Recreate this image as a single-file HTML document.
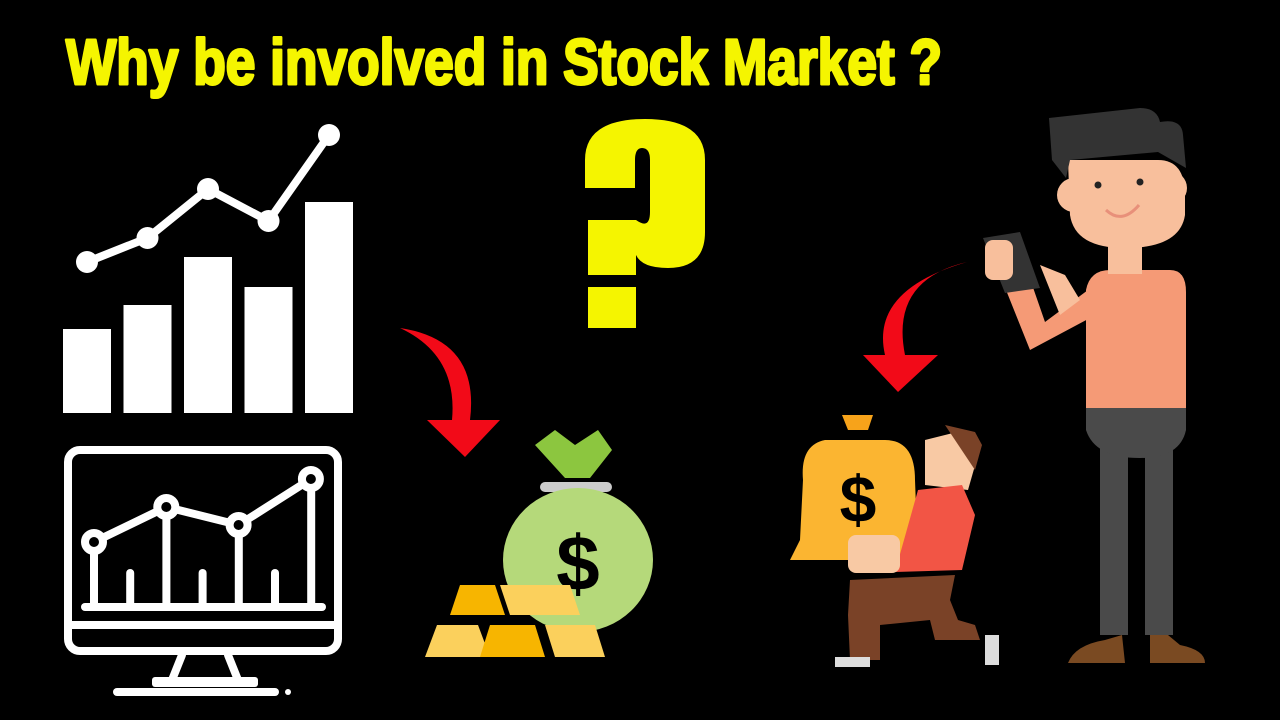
<!DOCTYPE html>
<html><head><meta charset="utf-8"><style>
html,body{margin:0;padding:0;background:#000;width:1280px;height:720px;overflow:hidden}
svg{display:block}
.title{font-family:"Liberation Sans Narrow","Liberation Sans",sans-serif;font-weight:bold;font-size:64px;fill:#f5f500;stroke:#f5f500;stroke-width:3;stroke-linejoin:round}
</style></head><body>
<svg id="s" width="1280" height="720" viewBox="0 0 1280 720">
<rect width="1280" height="720" fill="#000"/>
<text class="title" x="66" y="84" textLength="876" lengthAdjust="spacingAndGlyphs">Why be involved in Stock Market ?</text>

<g id="barchart"></g>

<g fill="none" stroke="#fff" stroke-width="8" stroke-linecap="round">
<rect x="68" y="450" width="270" height="201" rx="12"/>
<line x1="70" y1="625" x2="336" y2="625"/>
<line x1="85" y1="607" x2="322" y2="607"/>
<g id="monlines"></g>
<rect x="172" y="655" width="66" height="26" fill="#000" stroke="none"/>
<line x1="182" y1="655" x2="172" y2="680"/><line x1="228" y1="655" x2="238" y2="680"/>
<rect x="152" y="677" width="106" height="10" rx="3" fill="#fff" stroke="none"/>
<line x1="117" y1="692" x2="275" y2="692"/>
<circle cx="288" cy="692" r="3" fill="#fff" stroke="none"/>
</g>

<g fill="#f5f500">
<path d="M585 188 V160 Q585 119 645 119 Q705 119 705 160 V232 Q705 268 668 268 Q642 268 636 255 V275 H588 V220 H636 Q650 230 650 212 V160 Q650 148 642 148 Q635 148 635 160 V188 Z"/>
<rect x="588" y="287" width="48" height="41"/>
</g>

<g fill="#f20a18">
<path d="M400 328 Q480 340 470 420 L500 420 L465 457 L427 420 L452 420 Q458 355 400 328 Z"/>
</g>
<g fill="#f20a18">
<path d="M967 262 Q890 280 905 355 L938 355 L898 392 L863 355 L885 355 Q870 290 967 262 Z"/>
</g>

<g>
<path d="M535 445 L555 430 L575 445 L598 430 L612 450 L590 478 L565 478 Z" fill="#8cc63f"/>
<rect x="540" y="482" width="72" height="10" rx="5" fill="#ccc"/>
<ellipse cx="578" cy="560" rx="75" ry="72" fill="#b5d97a"/>
<text x="578" y="590" font-family="Liberation Sans,sans-serif" font-weight="bold" font-size="78" fill="#000" text-anchor="middle">$</text>
<polygon points="460,585 495,585 505,615 450,615" fill="#f7b500"/>
<polygon points="500,585 570,585 580,615 510,615" fill="#fbd05c"/>
<polygon points="437,625 478,625 490,657 425,657" fill="#fbd05c"/>
<polygon points="490,625 535,625 545,657 480,657" fill="#f7b500"/>
<polygon points="545,625 595,625 605,657 555,657" fill="#fbd05c"/>
</g>

<g>
<path d="M842 415 L873 415 L868 430 L848 430 Z" fill="#f7a31a"/>
<path d="M825 440 Q800 445 803 480 L800 540 L790 560 L918 560 L915 480 Q915 440 885 440 Z" fill="#fbb531"/>
<text x="858" y="522" font-family="Liberation Sans,sans-serif" font-weight="bold" font-size="66" fill="#000" text-anchor="middle">$</text>
<path d="M925 440 L965 430 L978 455 L968 490 L925 485 Z" fill="#f8c9a4"/>
<path d="M945 425 L975 432 L982 445 L975 470 Z" fill="#7a4227"/>
<path d="M918 490 L962 485 L975 515 L962 570 L895 572 Z" fill="#f25545"/>
<rect x="848" y="535" width="52" height="38" rx="8" fill="#f8c9a4"/>
<path d="M850 580 L955 575 L950 600 L958 620 L975 625 L980 640 L935 640 L930 620 L880 625 L880 660 L850 660 L848 615 Z" fill="#7a4227"/>
<rect x="985" y="635" width="14" height="30" fill="#ddd"/>
<rect x="835" y="657" width="35" height="10" fill="#ddd"/>
</g>

<g>
<rect x="1100" y="440" width="28" height="195" fill="#4a4a4a"/>
<rect x="1145" y="440" width="28" height="195" fill="#4a4a4a"/>
<path d="M1086 408 H1186 V430 Q1180 458 1140 458 Q1095 458 1086 430 Z" fill="#4a4a4a"/>
<path d="M1068 663 Q1075 645 1105 640 L1122 635 L1125 663 Z" fill="#7a4a22"/>
<path d="M1150 635 L1168 635 L1180 645 Q1205 650 1205 663 L1150 663 Z" fill="#7a4a22"/>
<path d="M1086 290 Q1090 270 1110 270 H1170 Q1186 270 1186 292 V408 H1086 Z" fill="#f59a76"/>
<path d="M990 250 L1030 350 L1090 318 L1088 290 L1045 322 L1020 250 Z" fill="#f59a76"/>
<rect x="1108" y="238" width="34" height="36" fill="#f8bf9c"/>
<circle cx="1074" cy="195" r="17" fill="#f8bf9c"/>
<circle cx="1170" cy="188" r="17" fill="#f8bf9c"/>
<path d="M1068 160 H1158 Q1185 160 1185 195 V215 Q1180 248 1125 248 Q1075 248 1070 215 Z" fill="#f8bf9c"/>
<path d="M1049 118 L1140 108 Q1157 108 1160 122 Q1182 118 1183 135 L1186 168 L1158 152 L1070 160 L1066 178 L1052 160 Z" fill="#333"/>
<circle cx="1098" cy="185" r="3.5" fill="#222"/><circle cx="1140" cy="182" r="3.5" fill="#222"/>
<path d="M1106 210 Q1122 225 1139 205" fill="none" stroke="#e8907a" stroke-width="3"/>
<path d="M983 238 L1020 232 L1040 288 L1005 293 Z" fill="#333"/>
<rect x="985" y="240" width="28" height="40" rx="8" fill="#f8bf9c"/>
<path d="M1040 265 L1065 275 L1080 300 L1060 315 Z" fill="#f8bf9c"/>
</g>

<script>
const barValues=[84,108,156,126,211];
const lineValues=[151,175,224,192,278];
const monPoints=[65,100,82,128];
const monStems=[34,0,32,0,34,0,42];
const g=document.getElementById('barchart');
const NS='http://www.w3.org/2000/svg';
const bx=i=>63+i*60.5, base=413;
barValues.forEach((v,i)=>{const r=document.createElementNS(NS,'rect');
r.setAttribute('x',bx(i));r.setAttribute('y',base-v);r.setAttribute('width',48);r.setAttribute('height',v);r.setAttribute('fill','#fff');

g.appendChild(r);});
const lp=lineValues.map((v,i)=>[bx(i)+24,base-v]);
const pl=document.createElementNS(NS,'polyline');pl.setAttribute('points',lp.map(p=>p.join(',')).join(' '));
pl.setAttribute('fill','none');pl.setAttribute('stroke','#fff');pl.setAttribute('stroke-width','8');

g.appendChild(pl);
lp.forEach(p=>{const c=document.createElementNS(NS,'circle');c.setAttribute('cx',p[0]);c.setAttribute('cy',p[1]);c.setAttribute('r',11);c.setAttribute('fill','#fff');

g.appendChild(c);});
const m=document.getElementById('monlines');const mb=607, mx=i=>94+i*72.3;
const mp=monPoints.map((v,i)=>[mx(i),mb-v]);
const ml=document.createElementNS(NS,'polyline');ml.setAttribute('points',mp.map(p=>p.join(',')).join(' '));

m.appendChild(ml);
monStems.forEach((v,i)=>{const x=94+i*36.2;let h=v;if(i%2==0)h=monPoints[i/2]-12;
const l=document.createElementNS(NS,'line');l.setAttribute('x1',x);l.setAttribute('x2',x);l.setAttribute('y1',mb);l.setAttribute('y2',mb-(i%2?v||34:h));

m.appendChild(l);});
mp.forEach(p=>{const c=document.createElementNS(NS,'circle');c.setAttribute('cx',p[0]);c.setAttribute('cy',p[1]);c.setAttribute('r',9);c.setAttribute('fill','#000');

m.appendChild(c);});
</script>
</svg>
</body></html>
